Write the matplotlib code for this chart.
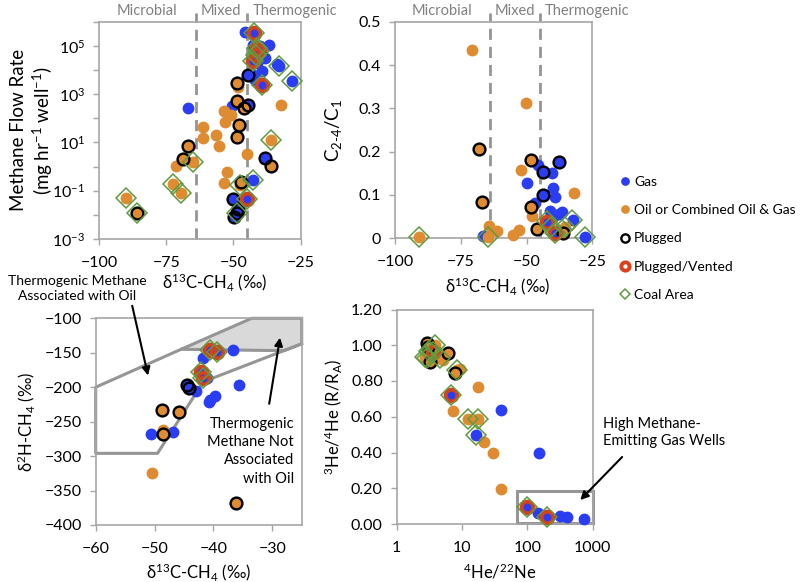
import matplotlib.pyplot as plt
from matplotlib.patches import Polygon, Rectangle
from matplotlib.ticker import NullLocator

plt.rcParams['font.family'] = ['Lato', 'DejaVu Sans']
plt.rcParams['mathtext.fontset'] = 'custom'
plt.rcParams['mathtext.rm'] = 'Lato'
plt.rcParams['mathtext.it'] = 'Lato:italic'
plt.rcParams['mathtext.bf'] = 'Lato:bold'
plt.rcParams['mathtext.default'] = 'regular'

BLUE = '#2b3df2'
ORANGE = '#de8b31'
RED = '#d9401c'
GREEN = '#5f9b3f'
SPINE = '#a6a6a6'
LINE = '#959595'
W, H = 802, 582

# ---- top left: methane flow rate vs d13C
flow_gas_d13c = [-45.7, -42.4, -42.6, -40.1, -36.7, -41.4, -38.3, -41.4, -33.9, -33.0, -28.3, -44.5, -42.6, -39.5,
                 -42.0, -39.5, -66.8, -50.7, -44.5, -38.3, -42.6, -45.1, -50.1, -48.2, -48.8, -49.7, -41.4, -40.4,
                 -41.8, -42.6]
flow_gas_rate = [3.8e5, 3.5e5, 1.1e5, 1.0e5, 1.05e5, 3.6e4, 3.2e4, 1.9e4, 1.7e4, 1.5e4, 3.4e3, 6.3e3, 6.0e3, 8.7e3,
                 4.0e3, 2.5e3, 2.6e2, 3.1e2, 3.6e2, 2.2, 0.28, 0.044, 0.045, 0.017, 0.012, 0.0085, 8.1e4, 5.9e4,
                 4.3e4, 2.3e4]
flow_oil_d13c = [-48.6, -48.2, -48.8, -46.1, -53.4, -51.0, -32.3, -53.1, -47.9, -61.4, -56.6, -61.4, -48.6, -55.4,
                 -66.8, -45.1, -36.0, -68.9, -71.4, -65.2, -52.3, -53.5, -36.2, -47.3, -47.6, -72.6, -69.5, -90.1,
                 -86.0]
flow_oil_rate = [2.9e3, 1.9e3, 5.0e2, 2.6e2, 2.0e2, 1.4e2, 3.6e2, 69, 54, 42, 21, 15, 17, 6.8,
                 6.8, 3.4, 13, 2.1, 1.1, 1.5, 0.62, 0.2, 1.1, 0.24, 0.17, 0.19, 0.079, 0.049,
                 0.012]
flow_plugged_d13c = [-44.5, -44.5, -38.3, -50.1, -48.2, -48.8, -49.7, -48.6, -48.8, -46.1, -47.9, -48.6, -66.8,
                     -68.9, -36.2, -47.3, -86.0]
flow_plugged_rate = [6.3e3, 3.6e2, 2.2, 0.045, 0.017, 0.012, 0.0085, 2.9e3, 5.0e2, 2.6e2, 54, 17, 6.8,
                     2.1, 1.1, 0.24, 0.012]
flow_vented_d13c = [-42.4, -41.4, -40.4, -41.8, -42.6, -39.5, -45.1]
flow_vented_rate = [3.5e5, 8.1e4, 5.9e4, 4.3e4, 2.3e4, 2.5e3, 0.044]
flow_coal_d13c = [-42.4, -41.4, -40.4, -41.8, -42.6, -39.5, -45.1, -33.0, -28.3, -36.0, -65.2, -42.6, -47.6, -72.6,
                  -69.5, -90.1, -86.0, -48.8]
flow_coal_rate = [3.5e5, 8.1e4, 5.9e4, 4.3e4, 2.3e4, 2.5e3, 0.044, 1.5e4, 3.4e3, 13, 1.5, 0.28, 0.17, 0.19,
                  0.079, 0.049, 0.012, 0.012]
flow_yticks = [1e-3, 1e-2, 1e-1, 1e0, 1e1, 1e2, 1e3, 1e4, 1e5, 1e6]
flow_ytick_labels = ['10$^{-3}$', '', '10$^{-1}$', '', '10$^{1}$', '', '10$^{3}$', '', '10$^{5}$', '']

# ---- top right: C2-4/C1 vs d13C
ratio_gas_d13c = [-45.5, -43.6, -37.5, -40.4, -49.9, -40.0, -43.9, -39.2, -46.8, -41.1, -36.5, -37.5, -39.8, -32.4,
                  -66.7, -27.8, -42.1, -39.2]
ratio_gas_c24 = [0.169, 0.154, 0.175, 0.150, 0.128, 0.117, 0.100, 0.096, 0.081, 0.064, 0.060, 0.055, 0.050, 0.042,
                 0.005, 0.004, 0.038, 0.013]
ratio_oil_d13c = [-70.8, -50.2, -68.1, -48.3, -52.2, -67.0, -48.3, -47.8, -31.8, -64.3, -61.3, -52.7, -55.0, -64.5,
                  -90.9, -45.9, -36.2, -35.4]
ratio_oil_c24 = [0.435, 0.313, 0.205, 0.181, 0.158, 0.083, 0.073, 0.051, 0.105, 0.028, 0.017, 0.019, 0.008, 0.004,
                 0.004, 0.021, 0.012, 0.027]
ratio_plugged_d13c = [-43.6, -37.5, -43.9, -68.1, -48.3, -67.0, -48.3, -45.9, -36.2]
ratio_plugged_c24 = [0.154, 0.175, 0.100, 0.205, 0.181, 0.083, 0.073, 0.021, 0.012]
ratio_vented_d13c = [-42.1, -39.2]
ratio_vented_c24 = [0.038, 0.013]
ratio_coal_d13c = [-90.9, -64.5, -42.1, -39.2, -40.8, -32.8, -35.4, -27.8]
ratio_coal_c24 = [0.004, 0.004, 0.040, 0.013, 0.025, 0.042, 0.027, 0.004]

# ---- bottom left: d2H vs d13C
iso_gas_d13c = [-36.6, -41.7, -41.1, -44.5, -44.2, -42.9, -35.7, -39.7, -40.5, -40.8, -50.6, -46.9, -40.5, -39.4,
                -42.1, -41.8]
iso_gas_d2h = [-146, -157, -187, -197, -201, -205, -197, -213, -218, -221, -268, -265, -146, -149, -178, -186]
iso_oil_d13c = [-48.7, -45.9, -48.5, -48.6, -50.4, -36.2]
iso_oil_d2h = [-233, -236, -262, -268, -324, -368]
iso_plugged_d13c = [-44.5, -44.2, -48.7, -45.9, -48.6, -36.2]
iso_plugged_d2h = [-197, -201, -233, -236, -268, -368]
iso_vented_d13c = [-40.5, -39.4, -42.1, -41.8]
iso_vented_d2h = [-146, -149, -178, -186]
iso_coal_d13c = [-40.5, -39.4, -42.1, -41.8]
iso_coal_d2h = [-146, -149, -178, -186]
# field boundaries
not_oil_x = [-45.5, -33.5, -25.0, -25.0, -28.0]
not_oil_y = [-145, -100, -100, -137, -147]
with_oil_x = [-45.5, -60.0, -60.0, -49.5, -41.7, -25.0]
with_oil_y = [-145, -200, -296, -296, -192, -137]

# ---- bottom right: 3He/4He vs 4He/22Ne
he_gas_ne = [4.1, 3.0, 6.8, 16.2, 39.5, 152, 97.6, 144, 202, 316, 400, 745]
he_gas_r = [0.93, 0.96, 0.72, 0.497, 0.64, 0.395, 0.097, 0.063, 0.037, 0.045, 0.037, 0.028]
he_oil_ne = [2.88, 3.86, 2.71, 3.23, 4.6, 6.17, 5.2, 8.3, 9.3, 7.8, 17.8, 7.4, 12.5, 17.8, 21.7, 29.5, 39.5, 3.3, 3.5]
he_oil_r = [1.01, 1.0, 0.935, 0.907, 0.926, 0.957, 0.92, 0.86, 0.865, 0.842, 0.767, 0.631, 0.59, 0.59, 0.46, 0.40,
            0.196, 0.98, 0.95]
he_plugged_ne = [2.88, 3.23, 6.17, 7.8, 3.0]
he_plugged_r = [1.01, 0.907, 0.957, 0.842, 0.99]
he_vented_ne = [3.64, 6.8, 97.6, 202]
he_vented_r = [0.963, 0.72, 0.097, 0.037]
he_coal_ne = [3.86, 2.71, 4.6, 3.64, 3.1, 8.3, 6.8, 12.5, 17.8, 16.2, 97.6, 202, 2.9]
he_coal_r = [1.0, 0.935, 0.926, 0.963, 0.97, 0.86, 0.72, 0.59, 0.59, 0.497, 0.097, 0.037, 0.93]

d13c_label = 'δ$^{13}$C-CH$_4$ (‰)'


def draw_points(ax, gas, oil, plugged, vented, coal):
    lines = []
    lines += ax.plot(gas[0], gas[1], ls='none', marker='o', ms=7.5, color=BLUE, mec=BLUE, clip_on=False,
                     label='Gas', zorder=3)
    lines += ax.plot(oil[0], oil[1], ls='none', marker='o', ms=7.5, color=ORANGE, mec=ORANGE, clip_on=False,
                     label='Oil or Combined Oil & Gas', zorder=3)
    lines += ax.plot(plugged[0], plugged[1], ls='none', marker='o', ms=8.5, mfc='none', mec='black', mew=1.7,
                     clip_on=False, label='Plugged', zorder=4)
    lines += ax.plot(vented[0], vented[1], ls='none', marker='o', ms=8.5, mfc='none', mec=RED, mew=2.8,
                     clip_on=False, label='Plugged/Vented', zorder=5)
    lines += ax.plot(coal[0], coal[1], ls='none', marker='D', ms=10, mfc='none', mec=GREEN, mew=1.1,
                     clip_on=False, label='Coal Area', zorder=6)
    return lines


def style(ax):
    for s in ax.spines.values():
        s.set_color(SPINE)
        s.set_linewidth(1.2)
    ax.tick_params(direction='out', length=4, width=1, color=SPINE, labelsize=11.5, labelcolor='black')
    ax.tick_params(axis='x', pad=8)
    ax.tick_params(axis='y', pad=6)


def zones(ax):
    for x in [-64, -45]:
        ax.axvline(x, ymin=0, ymax=1.04, color=LINE, lw=2, ls=(0, (4, 2.5)), clip_on=False, zorder=1)
    tr = ax.get_xaxis_transform()
    ax.text(-82, 1.05, 'Microbial', transform=tr, ha='center', va='center', fontsize=10.5, color='#808080')
    ax.text(-54.5, 1.05, 'Mixed', transform=tr, ha='center', va='center', fontsize=10.5, color='#808080')
    ax.text(-43, 1.05, 'Thermogenic', transform=tr, ha='left', va='center', fontsize=10.5, color='#808080')


fig = plt.figure(figsize=(8.02, 5.82), dpi=100)

# top left
ax1 = fig.add_axes([99 / W, 1 - 239 / H, 201.7 / W, 217.3 / H])
handles = draw_points(ax1, (flow_gas_d13c, flow_gas_rate), (flow_oil_d13c, flow_oil_rate),
                      (flow_plugged_d13c, flow_plugged_rate), (flow_vented_d13c, flow_vented_rate),
                      (flow_coal_d13c, flow_coal_rate))
ax1.set_yscale('log')
ax1.set_xlim(-100, -25)
ax1.set_ylim(1e-3, 1e6)
ax1.set_xticks([-100, -75, -50, -25])
ax1.set_yticks(flow_yticks)
ax1.set_yticklabels(flow_ytick_labels)
ax1.yaxis.set_minor_locator(NullLocator())
style(ax1)
zones(ax1)
ax1.text(-0.33, 0.5, 'Methane Flow Rate\n(mg hr$^{-1}$ well$^{-1}$)', transform=ax1.transAxes, rotation=90,
         ha='center', va='center', fontsize=13.5, linespacing=1.2)
ax1.text(0.575, -0.2, d13c_label, transform=ax1.transAxes, ha='center', va='center', fontsize=12)

# top right
ax2 = fig.add_axes([395 / W, 1 - 238.3 / H, 197.3 / W, 216.6 / H])
draw_points(ax2, (ratio_gas_d13c, ratio_gas_c24), (ratio_oil_d13c, ratio_oil_c24),
            (ratio_plugged_d13c, ratio_plugged_c24), (ratio_vented_d13c, ratio_vented_c24),
            (ratio_coal_d13c, ratio_coal_c24))
ax2.set_xlim(-100, -25)
ax2.set_ylim(0, 0.5)
ax2.set_xticks([-100, -75, -50, -25])
ax2.set_yticks([0, 0.1, 0.2, 0.3, 0.4, 0.5])
ax2.set_yticklabels(['0', '0.1', '0.2', '0.3', '0.4', '0.5'])
style(ax2)
zones(ax2)
ax2.text(-0.31, 0.5, 'C$_{\\text{2-4}}$/C$_1$', transform=ax2.transAxes, rotation=90,
         ha='center', va='center', fontsize=13.5)
ax2.text(0.52, -0.22, d13c_label, transform=ax2.transAxes, ha='center', va='center', fontsize=12)

# bottom left
ax3 = fig.add_axes([95.7 / W, 1 - 525 / H, 206 / W, 206.7 / H])
ax3.add_patch(Polygon(list(zip(not_oil_x, not_oil_y)), closed=True, facecolor='#d9d9d9', edgecolor=LINE,
                      lw=2.2, zorder=1, clip_on=False))
ax3.plot(with_oil_x, with_oil_y, color=LINE, lw=2.2, zorder=1, clip_on=False)
draw_points(ax3, (iso_gas_d13c, iso_gas_d2h), (iso_oil_d13c, iso_oil_d2h),
            (iso_plugged_d13c, iso_plugged_d2h), (iso_vented_d13c, iso_vented_d2h),
            (iso_coal_d13c, iso_coal_d2h))
ax3.set_xlim(-60, -25)
ax3.set_ylim(-400, -100)
ax3.set_xticks([-60, -50, -40, -30])
ax3.set_yticks([-400, -350, -300, -250, -200, -150, -100])
style(ax3)
ax3.text(-0.34, 0.5, 'δ$^2$H-CH$_4$ (‰)', transform=ax3.transAxes, rotation=90,
         ha='center', va='center', fontsize=12)
ax3.text(0.5, -0.226, d13c_label, transform=ax3.transAxes, ha='center', va='center', fontsize=12)
ax3.annotate('', xy=(-51.0, -187), xytext=(-53.9, -78), annotation_clip=False,
             arrowprops=dict(arrowstyle='-|>', color='black', lw=1.5, mutation_scale=12))
ax3.text(-63.2, -57, 'Thermogenic Methane\nAssociated with Oil', ha='center', va='center', fontsize=10,
         linespacing=1.3)
ax3.annotate('', xy=(-28.6, -124), xytext=(-30.6, -228), annotation_clip=False,
             arrowprops=dict(arrowstyle='-|>', color='black', lw=1.5, mutation_scale=12))
ax3.text(-26.3, -293, 'Thermogenic\nMethane Not\nAssociated\nwith Oil', ha='right', va='center', fontsize=10.5,
         linespacing=1.4, multialignment='right')

# bottom right
ax4 = fig.add_axes([396.7 / W, 1 - 524 / H, 196 / W, 214.5 / H])
draw_points(ax4, (he_gas_ne, he_gas_r), (he_oil_ne, he_oil_r), (he_plugged_ne, he_plugged_r),
            (he_vented_ne, he_vented_r), (he_coal_ne, he_coal_r))
ax4.set_xscale('log')
ax4.set_xlim(1, 1000)
ax4.set_ylim(0, 1.2)
ax4.set_xticks([1, 10, 100, 1000])
ax4.set_xticklabels(['1', '10', '100', '1000'])
ax4.xaxis.set_minor_locator(NullLocator())
ax4.set_yticks([0, 0.2, 0.4, 0.6, 0.8, 1.0, 1.2])
ax4.set_yticklabels(['0.00', '0.20', '0.40', '0.60', '0.80', '1.00', '1.20'])
style(ax4)
ax4.add_patch(Rectangle((68.7, 0.005), 1000 - 68.7, 0.18, facecolor='none', edgecolor=LINE, lw=2.2,
                        zorder=2, clip_on=False))
ax4.text(-0.325, 0.5, '$^3$He/$^4$He (R/R$_A$)', transform=ax4.transAxes, rotation=90,
         ha='center', va='center', fontsize=12)
ax4.text(0.527, -0.222, '$^4$He/$^{22}$Ne', transform=ax4.transAxes, ha='center', va='center', fontsize=12)
ax4.annotate('', xy=(602, 0.123), xytext=(3020, 0.386), annotation_clip=False,
             arrowprops=dict(arrowstyle='-|>', color='black', lw=1.5, mutation_scale=12))
ax4.text(1439, 0.511, 'High Methane-\nEmitting Gas Wells', ha='left', va='center', fontsize=10.5,
         linespacing=1.3)

leg = fig.legend(handles=handles, loc='upper left', bbox_to_anchor=(620 / W, 1 - 176 / H), frameon=False,
                 fontsize=10, markerscale=0.7, handlelength=0.7, handletextpad=0.3, labelspacing=1.17,
                 borderpad=0, borderaxespad=0)
leg.legend_handles[4].set_markersize(5.5)

plt.savefig('out.png', dpi=100)
